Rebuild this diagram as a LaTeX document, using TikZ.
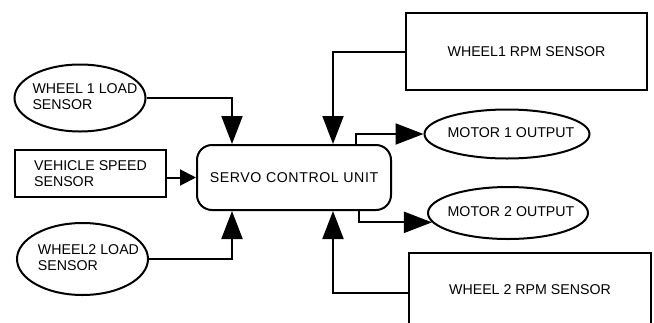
\documentclass[tikz,border=0pt]{standalone}
\usepackage{fontspec}
\setmainfont{Liberation Sans}
\usetikzlibrary{shapes.geometric,arrows.meta,calc}

% text set inside an oval without widening it; #1 nudges it to the right
\newcommand\ovaltext[2]{\makebox[0pt]{\hspace*{#1}\begin{tabular}{@{}l@{}}#2\end{tabular}}}

\tikzset{
  every node/.style={font=\fontsize{14.2}{16}\selectfont, inner sep=0pt},
  block/.style={draw, line width=2pt, rectangle, align=left},
  oval/.style={draw, line width=2pt, ellipse},
  unit/.style={draw, line width=2pt, rectangle, rounded corners=15pt},
  link/.style={line width=2pt, -{Triangle[length=28pt,width=21pt]}},
  smalllink/.style={line width=2pt, -{Triangle[length=16pt,width=16pt]}},
}

\begin{document}
\begin{tikzpicture}[x=1pt,y=-1pt]
  \useasboundingbox (0,0) rectangle (654,322);
  \clip (0,0) rectangle (654,322);

  % central controller
  \node[unit, minimum width=194pt, minimum height=65pt] (servo) at (294,177.5)
    {\addfontfeature{LetterSpace=4}SERVO CONTROL UNIT};

  % inputs on the left
  \node[oval, minimum width=131pt, minimum height=67pt] (w1load) at (80,98)
    {\ovaltext{10pt}{WHEEL 1 LOAD\\SENSOR}};
  \node[block, minimum width=151pt, minimum height=47pt] (vspeed) at (90.5,173.5)
    {VEHICLE SPEED\\SENSOR};
  \node[oval, minimum width=131pt, minimum height=72pt] (w2load) at (82.5,259)
    {\ovaltext{12pt}{WHEEL2 LOAD\\SENSOR}};

  % wheel speed sensors on the right
  \node[block, minimum width=241pt, minimum height=77pt] (rpm1) at (526.5,51.5) {WHEEL1 RPM SENSOR};
  \node[block, minimum width=242pt, minimum height=74pt] (rpm2) at (530,290) {WHEEL 2 RPM SENSOR};

  % outputs
  \node[oval, minimum width=165pt, minimum height=49pt] (m1) at (507,134) {\ovaltext{8pt}{MOTOR 1 OUTPUT}};
  \node[oval, minimum width=160pt, minimum height=52pt] (m2) at (508,213) {\ovaltext{6pt}{MOTOR 2 OUTPUT}};

  % connectors into the controller
  \draw[link] (w1load.east) -| ($(servo.north west)+(36,0)$);
  \draw[smalllink] (vspeed.east |- servo.west) -- (servo.west);
  \draw[link] (w2load.east) -| ($(servo.south west)+(36,0)$);
  \draw[link] (rpm1.west) -| ($(servo.north west)+(137,0)$);
  \draw[link] ($(rpm2.west)+(0,3)$) -| ($(servo.south west)+(137,0)$);

  % connectors out of the controller
  \draw[link] ($(servo.north west)+(160,0)$) |- (m1.west);
  \draw[link] ($(servo.south west)+(163,0)$) |- (m2.187);
\end{tikzpicture}
\end{document}
